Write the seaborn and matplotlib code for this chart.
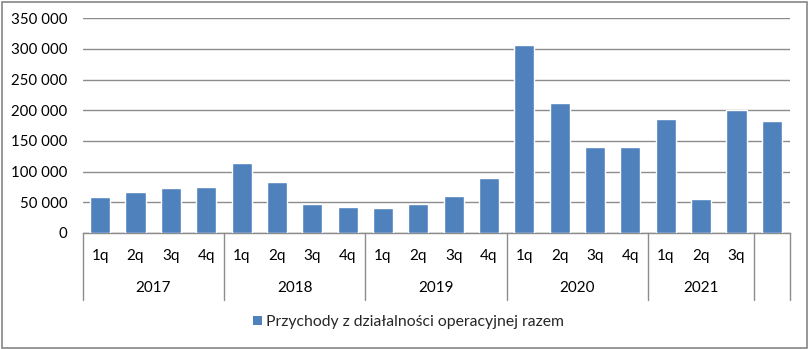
import matplotlib
matplotlib.use("Agg")
import matplotlib.pyplot as plt
import matplotlib.transforms as mtransforms
from matplotlib.patches import Patch, Rectangle
from matplotlib.ticker import FuncFormatter
import seaborn as sns
import pandas as pd

# ---- data ----
years = ["2017", "2018", "2019", "2020", "2021", ""]
quarters_per_year = [4, 4, 4, 4, 3, 1]
quarter_labels = ["1q", "2q", "3q", "4q",
                  "1q", "2q", "3q", "4q",
                  "1q", "2q", "3q", "4q",
                  "1q", "2q", "3q", "4q",
                  "1q", "2q", "3q",
                  ""]
values = [58600, 66800, 73300, 74900,
          114000, 83000, 47200, 42300,
          40700, 47200, 60200, 89500,
          306600, 211700, 140000, 140000,
          185600, 55400, 200300,
          182300]
series_name = "Przychody z działalności operacyjnej razem"
y_ticks = [0, 50000, 100000, 150000, 200000, 250000, 300000, 350000]

sns.set_theme(style="white")
plt.rcParams["font.family"] = ["Lato", "DejaVu Sans"]

W, H = 809, 349
fig = plt.figure(figsize=(W / 100, H / 100), dpi=100)
ax = fig.add_axes([82.5 / W, 1 - 233 / H, (789.5 - 82.5) / W, (233 - 18.3) / H])

df = pd.DataFrame({"cat": [f"c{i}" for i in range(len(values))], "value": values})
sns.barplot(data=df, x="cat", y="value", color="#4F81BD", saturation=1,
            width=0.57, ax=ax, zorder=3)

ax.set_xlim(-0.5, len(values) - 0.5)
ax.set_ylim(0, 350000)
ax.set_yticks(y_ticks)
ax.yaxis.set_major_formatter(FuncFormatter(lambda v, p: f"{int(v):,}".replace(",", " ")))
ax.tick_params(axis="y", length=0, pad=11, labelsize=10.8, labelcolor="#000000")
ax.set_xticks([])
ax.set_xlabel("")
ax.set_ylabel("")
ax.grid(axis="y", color="#8C8C8C", linewidth=1, zorder=0)
for s in ["top", "right", "left"]:
    ax.spines[s].set_visible(False)
ax.spines["bottom"].set_color("#8C8C8C")
ax.spines["bottom"].set_linewidth(1)

# multi-level category axis
trans = mtransforms.blended_transform_factory(ax.transData, fig.transFigure)
y_q = 1 - 256 / H
y_y = 1 - 288 / H
y_bot = 1 - 300 / H
y_top = 1 - 233 / H
for i, q in enumerate(quarter_labels):
    ax.text(i, y_q, q, transform=trans, ha="center", va="center", fontsize=11, color="#000000")
start = 0
bounds = [-0.5]
for yr, n in zip(years, quarters_per_year):
    center = start + (n - 1) / 2
    ax.text(center, y_y, yr, transform=trans, ha="center", va="center", fontsize=11, color="#000000")
    start += n
    bounds.append(start - 0.5)
for b in bounds:
    ax.plot([b, b], [y_top, y_bot], transform=trans, color="#8C8C8C", linewidth=1, clip_on=False)

# legend
handle = Patch(facecolor="#4F81BD", edgecolor="none", label=series_name)
fig.legend(handles=[handle], loc="center", bbox_to_anchor=(0.505, 1 - 322 / H),
           frameon=False, fontsize=11.3, handlelength=0.55, handleheight=0.55,
           handletextpad=0.3, borderaxespad=0)

# outer frame
fig.patches.append(Rectangle((1.5 / W, 1.5 / H), 1 - 3.5 / W, 1 - 3.5 / H, transform=fig.transFigure,
                             fill=False, edgecolor="#868686", linewidth=1.2))

fig.savefig("out.png", dpi=100)
